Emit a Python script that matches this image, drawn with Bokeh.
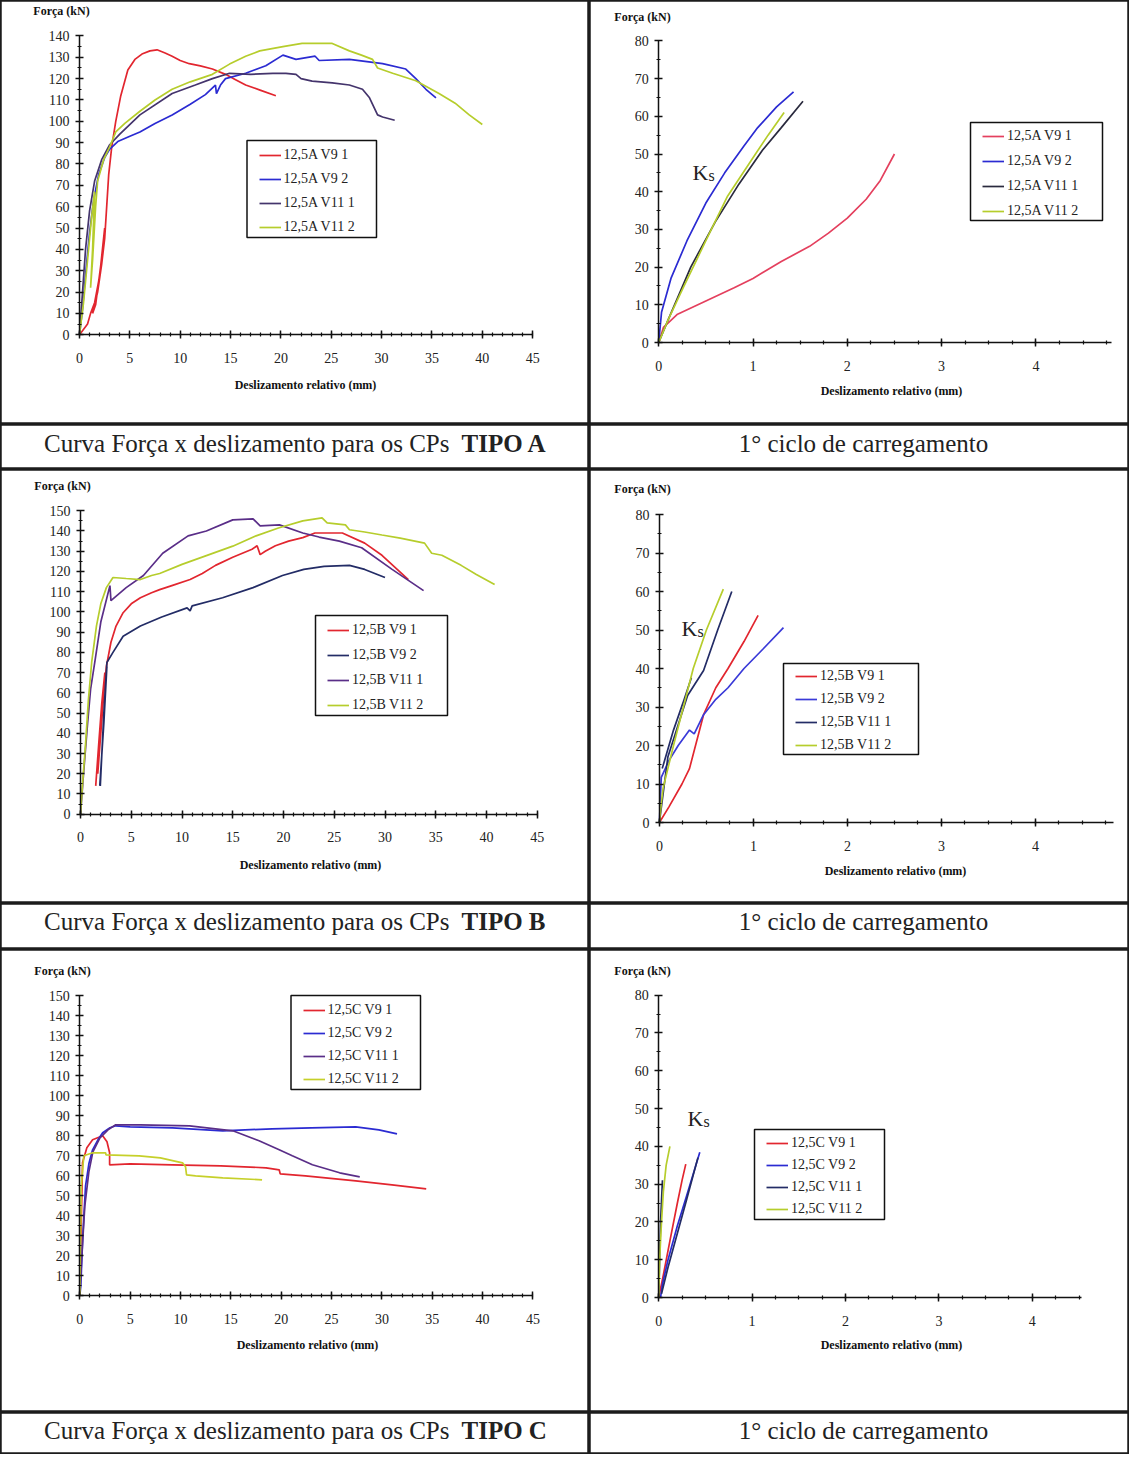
import numpy as np
from bokeh.plotting import figure
from bokeh.layouts import column, row
from bokeh.models import Range1d, Label, Legend, LegendItem, BoxAnnotation, SingleIntervalTicker
from bokeh.embed import file_html
from bokeh.resources import INLINE

nan = np.nan

# ---------------- DATA ----------------
# TIPO A - complete curves (x: deslizamento mm, y: forca kN)
a_labels = ["12,5A V9 1", "12,5A V9 2", "12,5A V11 1", "12,5A V11 2"]
a_v91_x = [0, 0.8, 1.1, 1.5, 1.9, 2.3, 2.5, 2.1, 1.6, 1.3, 1.8, 2.2, 2.5, 2.7, 2.9, 3.2, 3.6, 4.1, 4.8, 5.5, 6.2, 7.0, 7.7, 8.5, 9.2, 10.0, 10.9, 12.0, 13.2, 14.5, 15.5, 16.5, 18.0, 19.5]
a_v91_y = [0, 5, 10, 15, 25, 38, 50, 32, 14, 10, 20, 33, 45, 60, 75, 88, 100, 112, 124, 129, 131.5, 133, 133.5, 132, 130.5, 128.5, 127, 126, 124.5, 122, 119.5, 117, 114.5, 112]
a_v92_x = [0, 0.3, 0.6, 1.0, 1.4, 1.9, 2.5, 3.0, 3.8, 5.0, 6.0, 7.5, 9.2, 11.0, 12.5, 13.5, 13.6, 14.0, 14.5, 16.5, 18.5, 20.2, 21.5, 23.4, 23.8, 26.8, 30.1, 32.4, 33.4, 34.4, 35.4]
a_v92_y = [0, 12, 28, 48, 63, 75, 83, 87, 90.5, 93, 95, 99, 103, 108, 112.5, 117, 113, 117, 120, 122.5, 126, 131, 129, 130.5, 128.5, 129, 127, 124.5, 120, 115, 111]
a_v111_x = [0, 0.3, 0.6, 1.0, 1.5, 2.2, 3.0, 4.0, 6.0, 9.2, 11.5, 13.2, 14.9, 17.0, 19.2, 20.5, 21.5, 22.0, 23.1, 25.1, 26.8, 28.1, 28.8, 29.6, 30.1, 31.3]
a_v111_y = [0, 20, 40, 58, 72, 82, 89, 94, 103, 113, 117, 120, 122.5, 122, 122.5, 122.5, 122, 120, 118.8, 118, 117, 115, 111, 103, 102, 100.5]
a_v112_x = [0, 0.4, 0.9, 1.2, 1.5, 1.3, 1.1, 1.3, 1.6, 1.8, 2.4, 3.0, 3.6, 4.5, 6.0, 7.5, 9.2, 11.0, 13.2, 14.9, 16.5, 17.9, 20.2, 22.1, 25.1, 26.8, 28.0, 29.1, 29.6, 31.1, 33.4, 35.7, 37.3, 38.7, 40.0]
a_v112_y = [0, 15, 40, 55, 67, 40, 22, 35, 60, 72, 82, 88, 95, 99, 104.7, 110, 115, 118.5, 122, 126.8, 130.5, 133, 135, 136.5, 136.5, 133, 131, 129, 125, 122.5, 119, 113, 108.5, 103, 98.5]

# TIPO A - 1st loading cycle
a1_v91_x = [0, 0.05, 0.2, 0.5, 0.8, 1.0, 1.3, 1.6, 1.8, 2.0, 2.2, 2.35, 2.5]
a1_v91_y = [0, 4, 7.5, 11, 14.5, 17, 21.5, 25.5, 29, 33, 38, 43, 50]
a1_v92_x = [0, 0.03, 0.13, 0.3, 0.5, 0.7, 0.9, 1.05, 1.25, 1.43]
a1_v92_y = [0, 8, 17, 27, 37, 45, 52, 57, 62.5, 66.5]
a1_v111_x = [0, 0.1, 0.34, 0.6, 0.85, 1.1, 1.3, 1.53]
a1_v111_y = [0, 6, 20, 32, 42, 51, 57, 64]
a1_v112_x = [0, 0.1, 0.25, 0.5, 0.73, 1.0, 1.16, 1.33]
a1_v112_y = [0, 6, 14, 27, 38.8, 49, 55, 61]

# TIPO B - complete curves
b_labels = ["12,5B V9 1", "12,5B V9 2", "12,5B V11 1", "12,5B V11 2"]
b_v91_x = [1.5, 1.8, 2.1, 2.4, 2.0, 1.7, 2.0, 2.3, 2.55, 3.0, 3.5, 4.2, 5.0, 5.9, 7.0, 7.8, 9.0, 10.8, 12.0, 13.3, 15.0, 16.9, 17.4, 17.7, 18.2, 19.2, 20.5, 21.9, 23.1, 25.8, 28.0, 29.7, 32.3]
b_v91_y = [14, 35, 55, 70, 45, 20, 40, 60, 73, 85, 93, 99.6, 104, 107, 109.5, 111, 113, 116, 119, 123, 127, 131, 132.7, 128.3, 130, 132.7, 135, 136.7, 139, 139, 134, 128, 116]
b_v92_x = [1.9, 2.3, 2.6, 2.2, 1.95, 2.3, 2.6, 3.2, 4.2, 5.9, 8.0, 10.5, 10.8, 11.0, 14.0, 17.0, 19.9, 22.0, 24.0, 26.5, 28.0, 30.0]
b_v92_y = [14, 45, 73, 40, 14, 50, 75, 80, 88, 93, 97.5, 102, 100.5, 103, 107, 112, 118, 121, 122.5, 123, 121, 117]
b_v111_x = [0, 0.3, 0.7, 1.0, 1.45, 2.0, 2.9, 3.0, 4.5, 6.2, 8.1, 10.6, 12.4, 15.0, 17.0, 17.7, 19.6, 21.9, 23.5, 25.5, 27.7, 30.7, 33.8]
b_v111_y = [0, 20, 45, 62, 76.5, 95, 113, 105.6, 112, 118, 129, 137.6, 140, 145.5, 146, 142.5, 143, 139, 137, 135, 131.7, 121, 110.5]
b_v112_x = [0, 0.2, 0.5, 0.78, 1.1, 1.57, 2.0, 2.55, 3.2, 4.5, 5.9, 7.0, 7.8, 10.0, 12.4, 15.0, 17.3, 19.5, 21.9, 23.8, 24.3, 26.1, 26.5, 28.0, 29.7, 31.5, 33.9, 34.6, 35.6, 37.5, 39.0, 40.8]
b_v112_y = [0, 15, 35, 56.7, 75, 93, 104, 112, 117, 116.5, 116, 118, 119, 123.5, 127.8, 132.5, 137.6, 141.5, 145, 146.5, 144, 143, 140.6, 139.5, 138, 136.5, 134, 129, 128, 123, 118.5, 113.5]

# TIPO B - 1st loading cycle
b1_v91_x = [0, 0.1, 0.24, 0.32, 0.47, 0.6, 0.73, 0.9, 1.05]
b1_v91_y = [0, 4, 10, 14, 28, 35, 40, 47, 53.8]
b1_v92_x = [0, 0.02, 0.1, 0.2, 0.32, 0.37, 0.47, 0.6, 0.73, 0.9, 1.1, 1.32]
b1_v92_y = [0, 11.7, 16, 20, 24, 23, 28, 32, 35, 40, 45, 50.6]
b1_v111_x = [0.03, 0.15, 0.25, 0.34, nan, 0, 0.09, 0.3, 0.47, 0.62, 0.77]
b1_v111_y = [14, 24, 31, 37.6, nan, 0, 17, 33, 39.5, 50, 60]
b1_v112_x = [0, 0.02, 0.04, 0.15, 0.36, 0.5, 0.68]
b1_v112_y = [0, 5, 9, 20, 40, 50, 60.6]

# TIPO C - complete curves
c_labels = ["12,5C V9 1", "12,5C V9 2", "12,5C V11 1", "12,5C V11 2"]
c_v91_x = [0, 0.1, 0.27, 0.7, 1.27, 2.27, 2.7, 2.96, 2.96, 5.0, 9.2, 14.0, 18.5, 19.8, 19.9, 22.4, 27.4, 31.0, 34.4]
c_v91_y = [0, 25, 66.5, 74, 78, 80, 77, 71.5, 65.5, 66, 65.5, 65, 64, 63, 61, 60, 57.5, 55.5, 53.5]
c_v92_x = [0, 0.1, 0.3, 0.57, 0.9, 1.27, 1.8, 2.27, 3.0, 3.57, 5.0, 9.2, 14.2, 19.1, 23.0, 27.4, 29.7, 31.5]
c_v92_y = [0, 5, 30, 55, 66, 73, 78, 81.5, 84, 85, 84.5, 84, 82.5, 83.5, 84, 84.5, 83, 81]
c_v111_x = [0, 0.2, 0.5, 0.9, 1.3, 2.0, 2.8, 3.57, 6.0, 10.9, 15.2, 17.8, 19.8, 21.1, 23.1, 25.8, 27.8]
c_v111_y = [0, 20, 45, 62, 72, 79, 83, 85.5, 85.5, 85, 82.5, 77.5, 73, 70, 65.5, 61.5, 59.5]
c_v112_x = [0, 0.05, 0.15, 0.4, 1.27, 2.57, 2.6, 5.9, 8.0, 10.2, 10.5, 10.6, 11.5, 14.2, 18.1]
c_v112_y = [0, 21.5, 55, 70, 71.5, 71.5, 70.5, 70, 69, 66.5, 64.5, 60.5, 60, 59, 58]

# TIPO C - 1st loading cycle
c1_v91_x = [0, 0.05, 0.12, 0.2, 0.25, 0.29]
c1_v91_y = [0, 6, 15, 25, 31, 35.3]
c1_v92_x = [0.02, 0.04, 0.1, 0.2, 0.3, 0.44]
c1_v92_y = [0, 3.5, 10, 19, 27, 38.4]
c1_v111_x = [0, 0.01, 0.02, 0.04, nan, 0.03, 0.1, 0.2, 0.3, 0.42]
c1_v111_y = [0, 10, 20, 31, nan, 1, 8, 17, 26, 37]
c1_v112_x = [0, 0.01, 0.03, 0.05, 0.08, 0.12]
c1_v112_y = [0, 10, 20, 28, 35, 40]

caption_left = ["Curva Força x deslizamento para os CPs", "Curva Força x deslizamento para os CPs", "Curva Força x deslizamento para os CPs"]
caption_tipo = ["TIPO A", "TIPO B", "TIPO C"]
caption_right = "1° ciclo de carregamento"
y_title = "Força (kN)"
x_title = "Deslizamento relativo (mm)"

# ---------------- STYLE ----------------
SERIF = "Liberation Serif"
RED = "#e2262f"
BLUE = "#2b2bd2"
DARK = "#44346c"
NAVY = "#232c66"
PURPLE = "#5a2e88"
GREEN = "#b6cd2c"
BORDER = "#1c1c1c"


def make_chart(cell, origin, scale, xbounds, ybounds, xint, xminor, yint, yminor):
    cx, cy, W, H = cell
    ox, oy = origin
    sx, sy = scale
    p = figure(width=W, height=H,
               x_range=Range1d(start=(cx - ox) / sx, end=(cx + W - ox) / sx),
               y_range=Range1d(start=(oy - (cy + H)) / sy, end=(oy - cy) / sy),
               min_border=0, toolbar_location=None, tools="", output_backend="svg")
    p.title.visible = False
    p.grid.visible = False
    p.background_fill_color = "white"
    p.border_fill_color = "white"
    p.outline_line_color = BORDER
    p.outline_line_width = 2.5
    p.xaxis.fixed_location = 0
    p.yaxis.fixed_location = 0
    p.xaxis.bounds = xbounds
    p.yaxis.bounds = ybounds
    p.xaxis.ticker = SingleIntervalTicker(interval=xint, num_minor_ticks=xminor)
    p.yaxis.ticker = SingleIntervalTicker(interval=yint, num_minor_ticks=yminor)
    for ax in (p.xaxis, p.yaxis):
        ax.axis_line_color = "#111111"
        ax.axis_line_width = 1.5
        ax.major_tick_line_color = "#111111"
        ax.major_tick_line_width = 1.5
        ax.minor_tick_line_color = "#111111"
        ax.minor_tick_line_width = 1.2
        ax.major_tick_in = 4
        ax.major_tick_out = 4
        ax.minor_tick_in = 2
        ax.minor_tick_out = 2
        ax.major_label_text_font = SERIF
        ax.major_label_text_font_size = "14px"
        ax.major_label_text_color = "#222222"
    p.xaxis.major_label_standoff = 14
    p.yaxis.major_label_standoff = 6

    def X(px):
        return (px - ox) / sx

    def Y(py):
        return (oy - py) / sy

    return p, X, Y


def add_series(p, xs, ys, colors):
    rs = []
    for x, y, c in zip(xs, ys, colors):
        rs.append(p.line(np.array(x, dtype=float), np.array(y, dtype=float), line_color=c, line_width=1.7))
    return rs


def add_texts(p, X, Y, forca_pos, xlabel_pos):
    p.add_layout(Label(x=X(forca_pos[0]), y=Y(forca_pos[1]), text=y_title, text_font=SERIF,
                       text_font_size="12px", text_font_style="bold", text_align="center",
                       text_baseline="middle", text_color="#111111"))
    p.add_layout(Label(x=X(xlabel_pos[0]), y=Y(xlabel_pos[1]), text=x_title, text_font=SERIF,
                       text_font_size="12px", text_font_style="bold", text_align="center",
                       text_baseline="middle", text_color="#111111"))


def add_ks(p, X, Y, k_pos):
    kx, ky = k_pos
    p.add_layout(Label(x=X(kx), y=Y(ky), text="K", text_font=SERIF, text_font_size="22px",
                       text_align="center", text_baseline="middle", text_color="#222222"))
    p.add_layout(Label(x=X(kx + 8), y=Y(ky + 3), text="s", text_font=SERIF, text_font_size="16px",
                       text_align="left", text_baseline="middle", text_color="#222222"))


def add_legend(p, X, Y, cell, box, rowsp, labels, renderers):
    cx, cy, W, H = cell
    left, top, right, bottom = box
    p.add_layout(BoxAnnotation(left=X(left), right=X(right), top=Y(top), bottom=Y(bottom),
                               fill_color="white", fill_alpha=1.0, line_color="#111111",
                               line_alpha=1.0, line_width=1.5))
    pad = 2
    sp = rowsp - 20
    lh = 2 * pad + 4 * 20 + 3 * sp
    first = (top + bottom) / 2 - 1.5 * rowsp
    ltop = first - 10 - pad
    loc = (left + 12 - cx, H - ((ltop - cy) + lh))
    items = [LegendItem(label=lab, renderers=[r]) for lab, r in zip(labels, renderers)]
    leg = Legend(items=items, location=loc, padding=pad, spacing=sp, margin=0,
                 glyph_width=22, glyph_height=20, label_height=20, label_standoff=3,
                 label_text_font=SERIF, label_text_font_size="14px", label_text_color="#222222",
                 border_line_color=None, background_fill_alpha=0.0)
    p.add_layout(leg)


def make_caption(W, H, left_text=None, tipo=None, center_text=None, ty=19):
    p = figure(width=W, height=H, x_range=Range1d(0, W), y_range=Range1d(0, H),
               x_axis_type=None, y_axis_type=None, min_border=0,
               toolbar_location=None, tools="", output_backend="svg")
    p.title.visible = False
    p.grid.visible = False
    p.background_fill_color = "white"
    p.border_fill_color = "white"
    p.outline_line_color = BORDER
    p.outline_line_width = 2.5
    if left_text is not None:
        p.add_layout(Label(x=449, y=H - ty, text=left_text, text_font=SERIF, text_font_size="25px",
                           text_align="right", text_baseline="middle", text_color="#222222"))
        p.add_layout(Label(x=461, y=H - ty, text=tipo, text_font=SERIF, text_font_size="25px",
                           text_font_style="bold", text_align="left", text_baseline="middle",
                           text_color="#222222"))
    if center_text is not None:
        p.add_layout(Label(x=274, y=H - ty, text=center_text, text_font=SERIF, text_font_size="25px",
                           text_align="center", text_baseline="middle", text_color="#222222"))
    return p


WL, WR = 589, 540
R1, R2, R3 = 424, 434, 463
C1, C2, C3 = 45, 46, 42

# ---- TIPO A ----
cellA1 = (8, 8, WL, R1)
pA1, X, Y = make_chart(cellA1, (87, 342.2), (10.07, 2.134), (0, 45), (0, 140), 5, 5, 10, 2)
rs = add_series(pA1, [a_v91_x, a_v92_x, a_v111_x, a_v112_x], [a_v91_y, a_v92_y, a_v111_y, a_v112_y],
                [RED, BLUE, DARK, GREEN])
add_texts(pA1, X, Y, (69, 18), (313, 392))
add_legend(pA1, X, Y, cellA1, (254.5, 148, 384, 245), 24, a_labels, rs)

cellA2 = (597, 8, WR, R1)
pA2, X, Y = make_chart(cellA2, (666.2, 350), (94.3, 3.77), (0, 4.8), (0, 80), 1, 4, 10, 2)
rs = add_series(pA2, [a1_v91_x, a1_v92_x, a1_v111_x, a1_v112_x], [a1_v91_y, a1_v92_y, a1_v111_y, a1_v112_y],
                ["#e4405e", BLUE, "#2a2a3e", GREEN])
add_texts(pA2, X, Y, (650, 24), (899, 398))
add_ks(pA2, X, Y, (708, 180))
add_legend(pA2, X, Y, cellA2, (978, 130, 1110, 228), 25, a_labels, rs)

# ---- TIPO B ----
cellB1 = (8, 477, WL, R2)
pB1, X, Y = make_chart(cellB1, (88, 821.7), (10.15, 2.023), (0, 45), (0, 150), 5, 5, 10, 2)
rs = add_series(pB1, [b_v91_x, b_v92_x, b_v111_x, b_v112_x], [b_v91_y, b_v92_y, b_v111_y, b_v112_y],
                [RED, NAVY, PURPLE, GREEN])
add_texts(pB1, X, Y, (70, 493), (318, 872))
add_legend(pB1, X, Y, cellB1, (323, 623, 455, 723), 25, b_labels, rs)

cellB2 = (597, 477, WR, R2)
pB2, X, Y = make_chart(cellB2, (666.9, 830), (94.0, 3.85), (0, 4.83), (0, 80), 1, 4, 10, 2)
rs = add_series(pB2, [b1_v91_x, b1_v92_x, b1_v111_x, b1_v112_x], [b1_v91_y, b1_v92_y, b1_v111_y, b1_v112_y],
                [RED, "#3a3ad8", NAVY, GREEN])
add_texts(pB2, X, Y, (650, 496), (903, 878))
add_ks(pB2, X, Y, (697, 636))
add_legend(pB2, X, Y, cellB2, (791, 671, 926, 762), 23, b_labels, rs)

# ---- TIPO C ----
cellC1 = (8, 957, WL, R3)
pC1, X, Y = make_chart(cellC1, (87.3, 1303.3), (10.07, 2.0), (0, 45), (0, 150), 5, 5, 10, 2)
rs = add_series(pC1, [c_v91_x, c_v92_x, c_v111_x, c_v112_x], [c_v91_y, c_v92_y, c_v111_y, c_v112_y],
                [RED, BLUE, PURPLE, "#c6d02a"])
add_texts(pC1, X, Y, (70, 978), (315, 1352))
add_legend(pC1, X, Y, cellC1, (298.5, 1003, 428, 1097), 23, c_labels, rs)

cellC2 = (597, 957, WR, R3)
pC2, X, Y = make_chart(cellC2, (666.2, 1305), (93.4, 3.78), (0, 4.53), (0, 80), 1, 4, 10, 2)
rs = add_series(pC2, [c1_v91_x, c1_v92_x, c1_v111_x, c1_v112_x], [c1_v91_y, c1_v92_y, c1_v111_y, c1_v112_y],
                [RED, BLUE, NAVY, GREEN])
add_texts(pC2, X, Y, (650, 978), (899, 1352))
add_ks(pC2, X, Y, (703, 1126))
add_legend(pC2, X, Y, cellC2, (762, 1137, 892, 1227), 22, c_labels, rs)

capA1 = make_caption(WL, C1, caption_left[0], caption_tipo[0])
capA2 = make_caption(WR, C1, center_text=caption_right)
capB1 = make_caption(WL, C2, caption_left[1], caption_tipo[1], ty=18)
capB2 = make_caption(WR, C2, center_text=caption_right, ty=18)
capC1 = make_caption(WL, C3, caption_left[2], caption_tipo[2], ty=18)
capC2 = make_caption(WR, C3, center_text=caption_right, ty=18)

layout = column(row(pA1, pA2), row(capA1, capA2),
                row(pB1, pB2), row(capB1, capB2),
                row(pC1, pC2), row(capC1, capC2))

open("out.html", "w").write(file_html(layout, INLINE))
